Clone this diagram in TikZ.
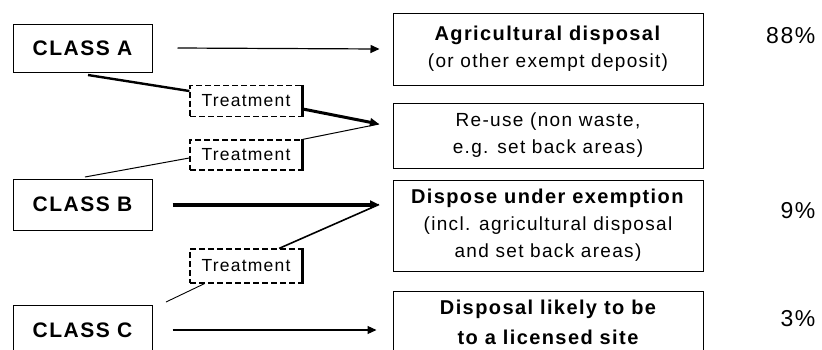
\documentclass[tikz,border=0pt]{standalone}
\usepackage{fontspec}
\setmainfont[LetterSpace=7]{Liberation Sans}
\usepackage{tikz}
\usetikzlibrary{positioning,arrows.meta}

\begin{document}
\begin{tikzpicture}[x=1pt,y=-1pt,
    cls/.style={draw,line width=1pt,minimum width=139pt,minimum height=48pt,inner sep=0pt,font=\fontsize{21}{23}\selectfont\bfseries},
    dest/.style={draw,line width=1pt,minimum width=310pt,inner sep=0pt,align=center,font=\fontsize{19}{27}\selectfont},
    treat/.style={draw,dash pattern=on 6pt off 3pt,line width=1.2pt,minimum width=112pt,minimum height=31pt,inner sep=0pt,font=\fontsize{17.5}{18}\selectfont},
    pct/.style={anchor=east,font=\fontsize{23}{24}\selectfont},
    link/.style={-{Triangle[length=9pt,width=8pt]}}]
  \useasboundingbox (0,0) rectangle (822,349);
  \clip (0,0) rectangle (822,349);

  % sources
  \node[cls](clsA) at (82.5,48){CLASS A};
  \node[cls,minimum height=51pt](clsB) at (82.5,204.5){CLASS B};
  \node[cls,minimum height=50pt](clsC) at (82.5,330){CLASS C};

  % destinations
  \node[dest,minimum height=72pt](agri) at (548,49){\textbf{\fontsize{20}{27}\selectfont Agricultural disposal}\\(or other exempt deposit)};
  \node[dest,minimum height=65pt](reuse) at (548,135.5){Re-use (non waste,\\e.g. set back areas)};
  \node[dest,minimum height=91pt](dispose) at (548,225.5){\textbf{\fontsize{20}{27}\selectfont Dispose under exemption}\\(incl. agricultural disposal\\and set back areas)};
  \node[dest,minimum height=62pt,font=\fontsize{20}{30}\selectfont\bfseries](licensed) at (548,322){Disposal likely to be\\to a licensed site};

  % shares
  \node[pct](p88) at (819,36){88\%};
  \node[pct](p9) at (819,211){9\%};
  \node[pct](p3) at (819,319){3\%};

  % treatment steps
  \node[treat](t1) at (246,101){Treatment};
  \node[treat,minimum height=30pt](t2) at (246,155){Treatment};
  \node[treat,minimum height=34pt](t3) at (246,266){Treatment};
  \foreach \t in {t1,t2,t3}
    \draw[line width=2.6pt] (\t.north east) -- (\t.south east);

  \coordinate (reuseTip) at (379,124);
  \coordinate (disposeTip) at (379,204.5);
  \coordinate (aFoot) at (88,75);
  \coordinate (bHead) at (85,177);
  \coordinate (cHead) at (166,302);

  % connectors
  \draw[link,line width=1.2pt] ([xshift=25pt]clsA.east) -- ([xshift=-13pt]agri.west);
  \draw[line width=2.4pt] (aFoot) -- (t1.170);
  \draw[link,line width=3pt] (t1.-8) -- (reuseTip);
  \draw[line width=1pt] (bHead) -- (t2.183);
  \draw[line width=1pt] (t2.north east) -- (reuseTip);
  \draw[link,line width=4pt] ([xshift=20pt]clsB.east) -- (disposeTip);
  \draw[line width=1.6pt] (t3.28) -- (disposeTip);
  \draw[line width=0.9pt] (cHead) -- (t3.203);
  \draw[link,line width=1.2pt] ([xshift=20pt]clsC.east) -- ([xshift=-16pt]licensed.west |- clsC.east);
\end{tikzpicture}
\end{document}
